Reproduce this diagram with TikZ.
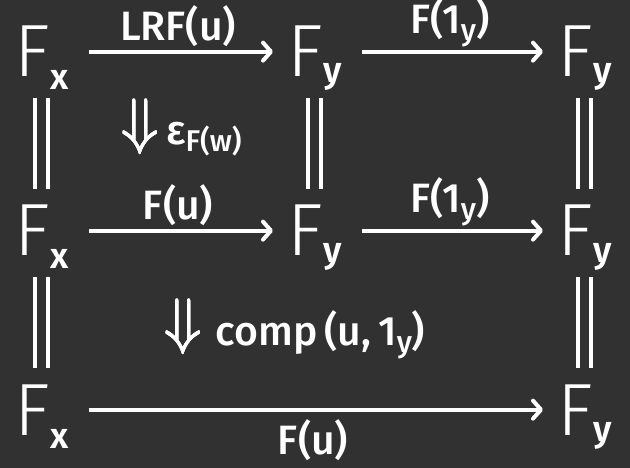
\documentclass[tikz,border=0pt]{standalone}
\usepackage{fontspec}
\setmainfont{Fira Sans Light}
\newfontfamily\labfam{Fira Sans Medium}
\newfontfamily\subfam{Fira Sans SemiBold}
\usepackage{graphicx}
\usepackage{tikz}
\usetikzlibrary{arrows.meta}
\definecolor{bgc}{HTML}{313131}
\definecolor{ink}{HTML}{FFFFFF}
\newcommand\objfont{\fontsize{74}{74}\selectfont}
\newcommand\labfont{\labfam\fontsize{41}{43}\selectfont}
\newcommand\subfont{\subfam\fontsize{36}{36}\selectfont}
\newcommand\lsubfont{\labfam\fontsize{30}{30}\selectfont}
\newcommand\Fob[2]{F\kern1pt\smash{\raisebox{-#2pt}{\subfont #1}}}
\newcommand\lsub[1]{\raisebox{-7pt}{\lsubfont #1}}
\newcommand\thickdn{\rlap{\boldmath$\Downarrow$}\rlap{\kern0.12pt\raisebox{0.1pt}{\boldmath$\Downarrow$}}\kern0.25pt\boldmath$\Downarrow$}
\newcommand\twocell{\raisebox{-10pt}{\resizebox{38pt}{56pt}{\raisebox{\depth}{\thickdn}}}}
\tikzset{obj/.style={inner sep=0pt,anchor=base west,font=\objfont,text=ink},
  mor/.style={draw=ink,line width=4pt,shorten <=20pt,shorten >=14pt,-{Straight Barb[length=8pt,width=18pt,round]}},
  eqln/.style={draw=ink,line width=4pt,double=bgc,double distance=9pt,shorten <=21pt,shorten >=16pt},
  lab/.style={font=\labfont,text=ink,inner sep=3pt}}

\begin{document}
\begin{tikzpicture}[x=1pt,y=-1pt]
\fill[bgc] (0,0) rectangle (630,468);
\useasboundingbox (0,0) rectangle (630,468);
% objects
\node[obj] (tl) at (14,77) {\Fob{x}{13}};
\node[obj] (tm) at (287,77) {\Fob{y}{6}};
\node[obj] (tr) at (557,77) {\Fob{y}{6}};
\node[obj] (ml) at (14,256) {\Fob{x}{13}};
\node[obj] (mm) at (287,256) {\Fob{y}{6}};
\node[obj] (mr) at (557,256) {\Fob{y}{6}};
\node[obj] (bl) at (14,435) {\Fob{x}{13}};
\node[obj] (br) at (557,435) {\Fob{y}{6}};
% morphisms
\draw[mor] (tl) -- node[lab,above] {LRF(u)} (tm);
\draw[mor] (tm) -- node[lab,above] {F(1\lsub{y})} (tr);
\draw[mor] (ml) -- node[lab,above] {F(u)} (mm);
\draw[mor] (mm) -- node[lab,above] {F(1\lsub{y})} (mr);
\draw[mor] (bl) -- node[lab,below=5pt] {F(u)} (br);
% identities
\draw[eqln] (tl) -- (ml);
\draw[eqln] (tm) -- (mm);
\draw[eqln] (tr) -- (mr);
\draw[eqln] (ml) -- (bl);
\draw[eqln] (mr) -- (br);
% 2-cells
\node[lab,anchor=base west] (eps) at (118,145) {\twocell\,ε\lsub{F(w)}};
\node[lab,anchor=base west] (cmp) at (161,345) {\twocell\,\,comp\,(u,\,1\lsub{y})};
\end{tikzpicture}
\end{document}
